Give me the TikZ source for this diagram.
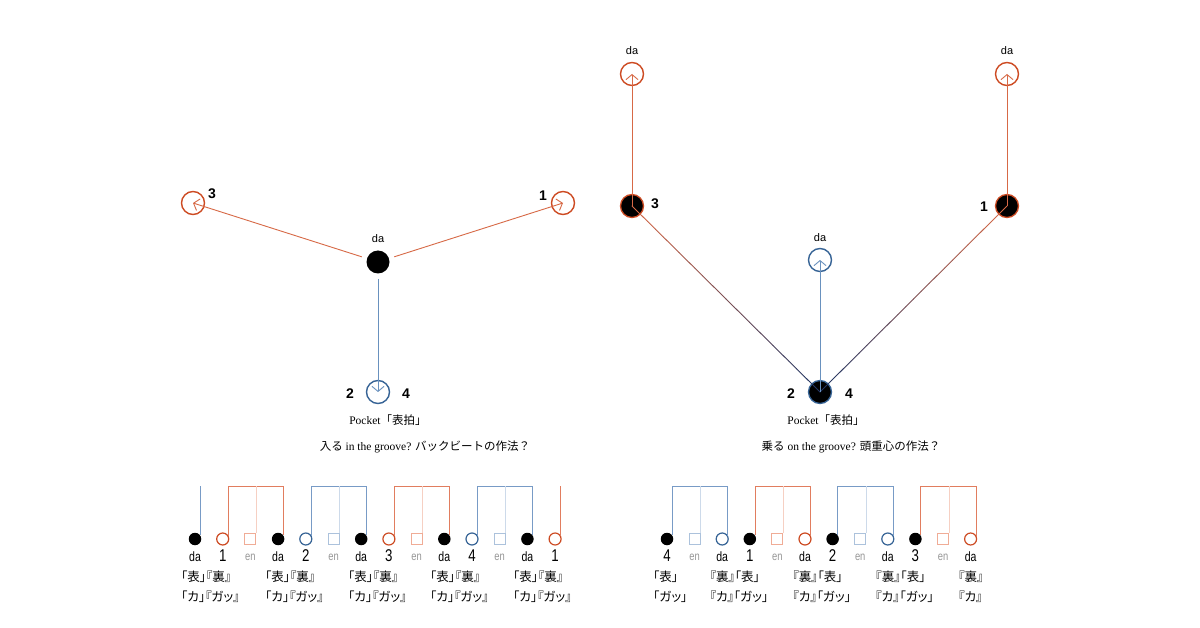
\documentclass[tikz,border=0pt]{standalone}
\usepackage{fontspec}
\usepackage{graphicx}
\setmainfont{Liberation Serif}
\setsansfont{Liberation Sans}
\newfontfamily\jp[RawFeature=+palt]{Noto Sans CJK JP}
\newfontfamily\jpn{Noto Sans CJK JP}
\usetikzlibrary{arrows.meta,calc}
\definecolor{orng}{RGB}{205,75,35}
\definecolor{blu}{RGB}{55,100,150}
\definecolor{orngline}{RGB}{215,105,70}
\definecolor{bluline}{RGB}{105,145,190}
\definecolor{orngbr}{RGB}{225,125,95}
\definecolor{blubr}{RGB}{120,155,198}
\definecolor{orngpale}{RGB}{246,208,195}
\definecolor{blupale}{RGB}{205,218,234}
\definecolor{orngsq}{RGB}{240,172,150}
\definecolor{blusq}{RGB}{172,194,220}
\definecolor{navy}{RGB}{35,55,100}
\definecolor{engray}{RGB}{150,150,150}
\tikzset{
  bigopen/.style={circle, draw, line width=1.4pt, minimum size=23pt, inner sep=0pt},
  bigdot/.style={circle, fill=black, minimum size=23pt, inner sep=0pt},
  bigdotring/.style={circle, fill=black, draw, line width=1.3pt, minimum size=23pt, inner sep=0pt},
  bignum/.style={font=\sffamily\bfseries\fontsize{14}{14}\selectfont, inner sep=0pt},
  bigda/.style={font=\sffamily\fontsize{11}{11}\selectfont, inner sep=0pt},
  thinline/.style={line width=0.9pt},
  barb/.style={-{Straight Barb[length=5pt,width=12pt]}},
  sdot/.style={circle, fill=black, minimum size=12.5pt, inner sep=0pt},
  scirc/.style={circle, draw, fill=white, line width=1.2pt, minimum size=12pt, inner sep=0pt},
  ssq/.style={rectangle, draw, line width=1pt, minimum size=11pt, inner sep=0pt},
  slab/.style={font=\sffamily\fontsize{13.5}{13.5}\selectfont, inner sep=0pt},
  snum/.style={font=\sffamily\fontsize{17}{17}\selectfont, inner sep=0pt},
  slen/.style={font=\sffamily\fontsize{12}{12}\selectfont, text=engray, inner sep=0pt},
  jlab/.style={font=\jp\fontsize{12.5}{13}\selectfont, inner sep=0pt, anchor=west},
  captext/.style={font=\fontsize{11.5}{13}\selectfont, inner sep=0pt},
  brk/.style={line width=0.9pt},
}
\newcommand{\narrow}[1]{\scalebox{0.78}[1]{#1}}
\begin{document}
\begin{tikzpicture}[x=1pt,y=-1pt]
\useasboundingbox (0,0) rectangle (1200,628);
\fill[white] (0,0) rectangle (1200,628);

% ===== Left diagram =====
\node[bigdot] (c) at (378,262) {};
\node[bigopen, draw=orng] (l3) at (193,203) {};
\node[bigopen, draw=orng] (l1) at (563,203) {};
\node[bigopen, draw=blu] (l24) at (378,392) {};
\draw[thinline, orngline, barb] ($(c)!17pt!(l3)$) -- (l3.center);
\draw[thinline, orngline, barb] ($(c)!17pt!(l1)$) -- (l1.center);
\draw[thinline, bluline, barb] ($(c)!17pt!(l24)$) -- (l24.center);
\node[bigda] (cda) at (378,239) {da};
\node[bignum] (l3n) at (212,194) {3};
\node[bignum] (l1n) at (543,196) {1};
\node[bignum] (l2n) at (350,394) {2};
\node[bignum] (l4n) at (406,394) {4};
\node[captext] (lp) at (388,420) {Pocket{\jpn「表拍」}};
\node[captext] (lcap) at (425,447) {{\jpn 入る} in the groove? {\jpn バックビートの作法？}};

% ===== Right diagram =====
\node[bigdotring, draw=orng] (r3) at (632,206) {};
\node[bigdotring, draw=orng] (r1) at (1007,206) {};
\node[bigdotring, draw=blu] (r24) at (820,392) {};
\node[bigopen, draw=orng] (rtl) at (632,74) {};
\node[bigopen, draw=orng] (rtr) at (1007,74) {};
\node[bigopen, draw=blu] (rc) at (820,260) {};
\foreach \s in {r3,r1}{
  \foreach \i in {0,...,23}{
    \pgfmathtruncatemacro\p{100-\i*100/23}
    \pgfmathsetmacro\a{\i/24}
    \pgfmathsetmacro\b{(\i+1)/24}
    \draw[thinline, line cap=round, color=orngline!\p!navy] ($(\s.center)!\a!(r24.center)$) -- ($(\s.center)!\b!(r24.center)$);
  }
}
\draw[thinline, orngline, barb] (r3.center) -- (rtl.center);
\draw[thinline, orngline, barb] (r1.center) -- (rtr.center);
\draw[thinline, bluline, barb] (r24.center) -- (rc.center);
\node[bigda] (rtlda) at (632,51) {da};
\node[bigda] (rtrda) at (1007,51) {da};
\node[bigda] (rcda) at (820,238) {da};
\node[bignum] (r3n) at (655,204) {3};
\node[bignum] (r1n) at (984,207) {1};
\node[bignum] (r2n) at (791,394) {2};
\node[bignum] (r4n) at (849,394) {4};
\node[captext] (rp) at (826,420) {Pocket{\jpn「表拍」}};
\node[captext] (rcap) at (851,447) {{\jpn 乗る} on the groove? {\jpn 頭重心の作法？}};

% ===== Bottom left row =====
\coordinate (top) at (0,486);
\def\ly{539}
\node[sdot] (a0) at (195,\ly) {};
\node[scirc, draw=orng] (a1) at (222.7,\ly) {};
\node[ssq, draw=orngsq] (a2) at (250.4,\ly) {};
\node[sdot] (a3) at (278.1,\ly) {};
\node[scirc, draw=blu] (a4) at (305.8,\ly) {};
\node[ssq, draw=blusq] (a5) at (333.5,\ly) {};
\node[sdot] (a6) at (361.2,\ly) {};
\node[scirc, draw=orng] (a7) at (388.9,\ly) {};
\node[ssq, draw=orngsq] (a8) at (416.6,\ly) {};
\node[sdot] (a9) at (444.3,\ly) {};
\node[scirc, draw=blu] (a10) at (472,\ly) {};
\node[ssq, draw=blusq] (a11) at (499.7,\ly) {};
\node[sdot] (a12) at (527.4,\ly) {};
\node[scirc, draw=orng] (a13) at (555.1,\ly) {};
% brackets
\draw[brk, blubr] (a0.35 |- top) -- (a0.35);
\draw[brk, orngbr] (a1.30) -- (a1.30 |- top) -- (a3.35 |- top) -- (a3.35);
\draw[brk, orngpale] (a2.north east |- top) -- (a2.north east);
\draw[brk, blubr] (a4.30) -- (a4.30 |- top) -- (a6.35 |- top) -- (a6.35);
\draw[brk, blupale] (a5.north east |- top) -- (a5.north east);
\draw[brk, orngbr] (a7.30) -- (a7.30 |- top) -- (a9.35 |- top) -- (a9.35);
\draw[brk, orngpale] (a8.north east |- top) -- (a8.north east);
\draw[brk, blubr] (a10.30) -- (a10.30 |- top) -- (a12.35 |- top) -- (a12.35);
\draw[brk, blupale] (a11.north east |- top) -- (a11.north east);
\draw[brk, orngbr] (a13.30) -- (a13.30 |- top);
% labels
\foreach \n in {0,3,6,9,12}{
  \node[slab] (ad\n) at ($(a\n)+(0,18)$) {\narrow{da}};
}
\foreach \n/\xx in {0/181,3/265,6/348,9/430,12/513}{
  \node[jlab] (aj\n) at (\xx,577) {「表」『裏』};
  \node[jlab] (ak\n) at (\xx,597) {「カ」『ガッ』};
}
\foreach \n in {2,5,8,11}{
  \node[slen] (ae\n) at ($(a\n)+(0,18)$) {\narrow{en}};
}
\node[snum] (an1) at ($(a1)+(0,17)$) {\narrow{1}};
\node[snum] (an4) at ($(a4)+(0,17)$) {\narrow{2}};
\node[snum] (an7) at ($(a7)+(0,17)$) {\narrow{3}};
\node[snum] (an10) at ($(a10)+(0,17)$) {\narrow{4}};
\node[snum] (an13) at ($(a13)+(0,17)$) {\narrow{1}};

% ===== Bottom right row =====
\node[sdot] (b0) at (667,\ly) {};
\node[ssq, draw=blusq] (b1) at (694.6,\ly) {};
\node[scirc, draw=blu] (b2) at (722.2,\ly) {};
\node[sdot] (b3) at (749.8,\ly) {};
\node[ssq, draw=orngsq] (b4) at (777.4,\ly) {};
\node[scirc, draw=orng] (b5) at (805,\ly) {};
\node[sdot] (b6) at (832.6,\ly) {};
\node[ssq, draw=blusq] (b7) at (860.2,\ly) {};
\node[scirc, draw=blu] (b8) at (887.8,\ly) {};
\node[sdot] (b9) at (915.4,\ly) {};
\node[ssq, draw=orngsq] (b10) at (943,\ly) {};
\node[scirc, draw=orng] (b11) at (970.6,\ly) {};
\draw[brk, blubr] (b0.35) -- (b0.35 |- top) -- (b2.30 |- top) -- (b2.30);
\draw[brk, blupale] (b1.north east |- top) -- (b1.north east);
\draw[brk, orngbr] (b3.35) -- (b3.35 |- top) -- (b5.30 |- top) -- (b5.30);
\draw[brk, orngpale] (b4.north east |- top) -- (b4.north east);
\draw[brk, blubr] (b6.35) -- (b6.35 |- top) -- (b8.30 |- top) -- (b8.30);
\draw[brk, blupale] (b7.north east |- top) -- (b7.north east);
\draw[brk, orngbr] (b9.35) -- (b9.35 |- top) -- (b11.30 |- top) -- (b11.30);
\draw[brk, orngpale] (b10.north east |- top) -- (b10.north east);
\node[snum] (bn0) at ($(b0)+(0,17)$) {\narrow{4}};
\node[snum] (bn3) at ($(b3)+(0,17)$) {\narrow{1}};
\node[snum] (bn6) at ($(b6)+(0,17)$) {\narrow{2}};
\node[snum] (bn9) at ($(b9)+(0,17)$) {\narrow{3}};
\foreach \n in {1,4,7,10}{
  \node[slen] (be\n) at ($(b\n)+(0,18)$) {\narrow{en}};
}
\foreach \n in {2,5,8,11}{
  \node[slab] (bd\n) at ($(b\n)+(0,18)$) {\narrow{da}};
}
% Japanese labels of the right row
\node[jlab] (bh0) at ($(b0)+(-14,38)$) {「表」};
\node[jlab] (bg0) at ($(b0)+(-14,58)$) {「ガッ」};
\foreach \n in {2,5,8}{
  \node[jlab] (bj\n) at ($(b\n)+(-12.5,38)$) {『裏』「表」};
  \node[jlab] (bk\n) at ($(b\n)+(-12.5,58)$) {『カ』「ガッ」};
}
\node[jlab] (bj11) at ($(b11)+(-12.5,38)$) {『裏』};
\node[jlab] (bk11) at ($(b11)+(-12.5,58)$) {『カ』};
\end{tikzpicture}
\end{document}
